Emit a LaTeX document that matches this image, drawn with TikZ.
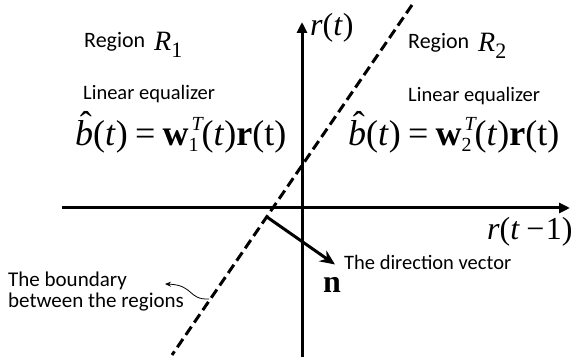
\documentclass[tikz,border=0pt]{standalone}
\usepackage{fontspec}
\setmainfont{Carlito}
\newfontfamily\tnr{Liberation Serif}
\usetikzlibrary{arrows.meta}

\newcommand\eqfont{\tnr\fontsize{36}{36}\selectfont}
\newcommand\idxfont{\fontsize{20}{20}\selectfont}
% b with a hat, w with a stacked index and transpose
\newcommand\bhat{\rlap{\hspace{0.13em}\raisebox{0.26em}{\char"02C6}}\textit{b}}
\newcommand\wvec[1]{\textbf{w}\rlap{\raisebox{0.44em}{\idxfont\hspace{3pt}\textit{T}}}\raisebox{-0.15em}{\idxfont #1}}
\newcommand\eqline[1]{{\eqfont\bhat(\textit{t})\hspace{0.2em}=\hspace{0.2em}\wvec{#1}\hspace{3pt}(\textit{t})\textbf{r}(t)}}
\newcommand\regname[1]{{\tnr\fontsize{28}{28}\selectfont\textit{R}\raisebox{-0.25em}{\fontsize{22}{22}\selectfont #1}}}

\tikzset{
    txt/.style={font=\fontsize{20.5}{24}\selectfont, inner sep=0pt, anchor=base west},
    axis/.style={line width=3pt, -{Triangle[length=11pt,width=10pt]}},
    bound/.style={line width=3pt, dash pattern=on 10pt off 5pt},
}

\begin{document}
\begin{tikzpicture}[x=1pt, y=-1pt]
    \useasboundingbox (0,0) rectangle (582,363);
    % axes
    \coordinate (ybot) at (302,357);
    \coordinate (ytop) at (302,22);
    \coordinate (xleft) at (62,208);
    \coordinate (xright) at (570,208);
    \draw[axis] (ybot) -- (ytop);
    \draw[axis] (xleft) -- (xright);
    \node[txt] (ylab) at (310,36) {\tnr\fontsize{32}{32}\selectfont\textit{r}(\textit{t})};
    \node[txt] (xlab) at (487,240) {\tnr\fontsize{32}{32}\selectfont\textit{r}(\textit{t}\hspace{0.2em}\textminus\hspace{0.05em}1)};

    % boundary and direction vector
    \coordinate (btop) at (412,5);
    \coordinate (bbot) at (172,355);
    \draw[bound] (btop) -- (bbot);
    \coordinate (nfoot) at (266.5,216.7);
    \coordinate (nhead) at (335,264.5);
    \draw[line width=3pt, -{Stealth[length=15pt,width=13pt]}] (nfoot) -- (nhead);
    \node[txt] (dirlab) at (344,270) {The direction vector};
    \node[txt] (nlab) at (323,293) {\tnr\bfseries\fontsize{32}{32}\selectfont n};

    % region R1
    \node[txt, font=\fontsize{22}{26}\selectfont] (reg1) at (84,48) {Region};
    \node[txt] (r1) at (154,51) {\regname{1}};
    \node[txt] (eqz1) at (83,100) {Linear equalizer};
    \node[txt] (eq1) at (75,146) {\eqline{1}};

    % region R2
    \node[txt, font=\fontsize{22}{26}\selectfont] (reg2) at (408,49) {Region};
    \node[txt] (r2) at (478,51.5) {\regname{2}};
    \node[txt] (eqz2) at (408,101.5) {Linear equalizer};
    \node[txt] (eq2) at (348,146) {\eqline{2}};

    % boundary label
    \node[txt, font=\fontsize{21}{24}\selectfont] (blab1) at (8,287) {The boundary};
    \node[txt, font=\fontsize{21}{24}\selectfont] (blab2) at (8,308) {between the regions};
    \coordinate (bpt) at (209,299);
    \coordinate (btip) at (165,284);
    \draw[line width=0.8pt, -{Stealth[length=6pt,width=5pt]}] (bpt) .. controls (188,300) and (194,285) .. (btip);
\end{tikzpicture}
\end{document}
